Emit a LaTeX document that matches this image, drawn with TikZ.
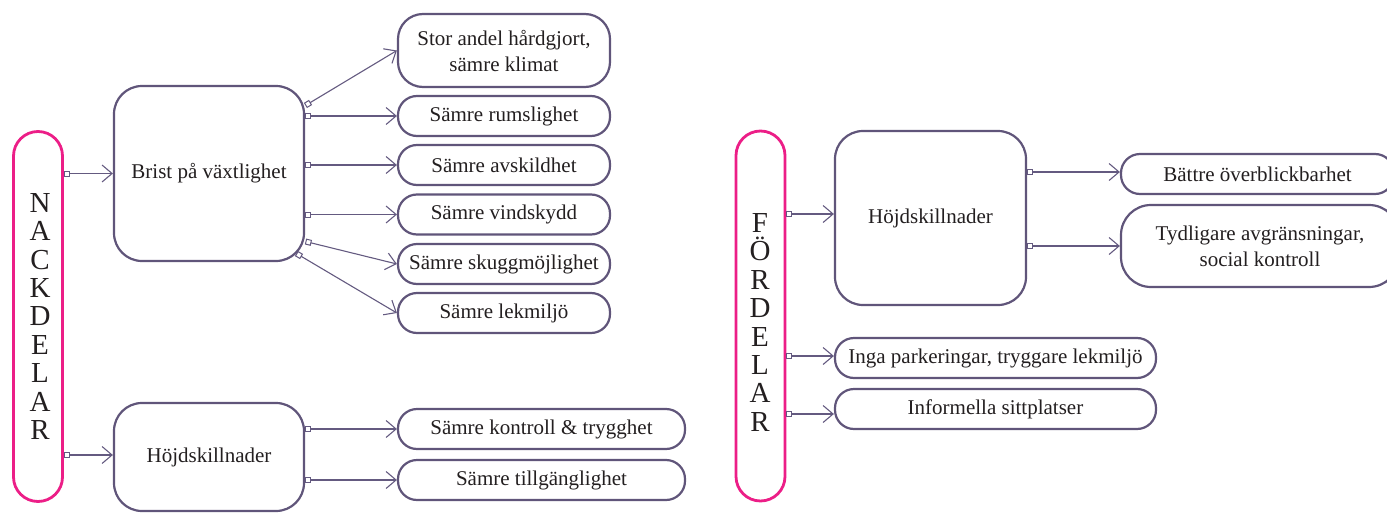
\documentclass[tikz,border=0pt]{standalone}
\usepackage{fontspec}
\setmainfont{Liberation Serif}
\usetikzlibrary{arrows.meta,calc}
\definecolor{boxc}{RGB}{96,85,122}
\definecolor{linec}{RGB}{100,90,128}
\definecolor{pinkc}{RGB}{236,30,135}
\definecolor{txtc}{RGB}{35,31,32}
\begin{document}
\begin{tikzpicture}[x=1pt,y=-1pt,
  box/.style={draw=boxc, line width=2.2pt, fill=white, inner sep=0pt,
    text=txtc, align=center, font=\fontsize{21}{26}\selectfont},
  bigbox/.style={box, rounded corners=28pt},
  smallbox/.style={box, rounded corners=19pt},
  pinkbox/.style={draw=pinkc, line width=2.8pt, fill=white, inner sep=0pt, rounded corners=24.5pt},
  letters/.style={text=txtc, align=center, inner sep=0pt, font=\fontsize{29}{28.4}\selectfont},
  conn/.style={draw=linec, line width=1.1pt,
    {Square[open,length=6pt,width=6pt,line width=1pt]}-{Straight Barb[length=10pt,width=17pt,line width=1.1pt]}}
]
\useasboundingbox (0,0) rectangle (1387,514);
\clip (0,0) rectangle (1387,514);
% left side
\node[pinkbox, minimum width=49pt, minimum height=370pt] (nack) at (38,316.5) {};
\node[letters] (nacktxt) at (40,316.5) {N\\A\\C\\K\\D\\E\\L\\A\\R};
\node[bigbox, minimum width=190pt, minimum height=175pt] (brist) at (209,173.5) {Brist på växtlighet};
\node[bigbox, minimum width=190pt, minimum height=108pt] (hojdL) at (209,457) {Höjdskillnader};
\node[box, rounded corners=25pt, minimum width=212pt, minimum height=73pt] (stor) at (504,50.5) {Stor andel hårdgjort,\\sämre klimat};
\node[smallbox, minimum width=212pt, minimum height=40pt] (rum) at (504,116) {Sämre rumslighet};
\node[smallbox, minimum width=212pt, minimum height=40pt] (avsk) at (504,165) {Sämre avskildhet};
\node[smallbox, minimum width=212pt, minimum height=40pt] (vind) at (504,214.5) {Sämre vindskydd};
\node[smallbox, minimum width=212pt, minimum height=40pt] (skugg) at (504,264) {Sämre skuggmöjlighet};
\node[smallbox, minimum width=212pt, minimum height=40pt] (lek) at (504,313) {Sämre lekmiljö};
\node[smallbox, minimum width=287pt, minimum height=40pt] (kontroll) at (541.5,429) {Sämre kontroll \& trygghet};
\node[smallbox, minimum width=287pt, minimum height=40pt] (tillg) at (541.5,480) {Sämre tillgänglighet};
% right side
\node[pinkbox, minimum width=49pt, minimum height=370pt] (ford) at (760.5,316) {};
\node[letters] (fordtxt) at (760,322.5) {F\\Ö\\R\\D\\E\\L\\A\\R};
\node[bigbox, minimum width=191pt, minimum height=174pt] (hojdR) at (930.5,218) {Höjdskillnader};
\node[smallbox, minimum width=273pt, minimum height=40pt] (battre) at (1257.5,174) {Bättre överblickbarhet};
\node[box, rounded corners=30pt, minimum width=278pt, minimum height=82pt] (tydl) at (1260,246) {Tydligare avgränsningar,\\social kontroll};
\node[smallbox, minimum width=321pt, minimum height=40pt] (inga) at (995.5,358) {Inga parkeringar, tryggare lekmiljö};
\node[smallbox, minimum width=321pt, minimum height=40pt] (inform) at (995.5,409) {Informella sittplatser};
% connectors left
\draw[conn] (nack.east |- brist.west) -- (brist.west);
\draw[conn] (nack.east |- 0,455) -- (hojdL.west |- 0,455);
\draw[conn] ($(brist.center)+(96.4,-68)$) -- (stor.west);
\draw[conn] (brist.east |- rum.west) -- (rum.west);
\draw[conn] (brist.east |- avsk.west) -- (avsk.west);
\draw[conn] (brist.east |- vind.west) -- (vind.west);
\draw[conn] ($(brist.center)+(96.5,68)$) -- (skugg.west);
\draw[conn] ($(brist.center)+(87.4,80)$) -- (lek.west);
\draw[conn] (hojdL.east |- kontroll.west) -- (kontroll.west);
\draw[conn] (hojdL.east |- tillg.west) -- (tillg.west);
% connectors right
\draw[conn] (ford.east |- 0,214) -- (hojdR.west |- 0,214);
\draw[conn] (ford.east |- 0,356) -- (inga.west |- 0,356);
\draw[conn] (ford.east |- 0,414) -- (inform.west |- 0,414);
\draw[conn] (hojdR.east |- 0,172) -- (battre.west |- 0,172);
\draw[conn] (hojdR.east |- tydl.west) -- (tydl.west);
\end{tikzpicture}
\end{document}
